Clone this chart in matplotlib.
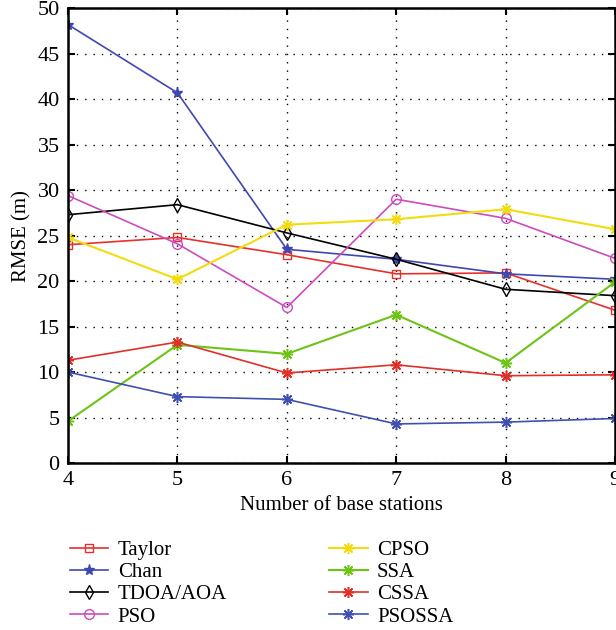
import matplotlib.pyplot as plt

plt.rcParams['font.family'] = ['Liberation Serif', 'DejaVu Serif']

# Number of base stations
stations = [4, 5, 6, 7, 8, 9]

# RMSE values (m)
taylor = [24.0, 24.8, 22.9, 20.8, 20.9, 16.8]
chan = [48.2, 40.7, 23.5, 22.4, 20.8, 20.2]
tdoa_aoa = [27.3, 28.4, 25.3, 22.4, 19.1, 18.4]
pso = [29.4, 24.1, 17.1, 29.0, 26.9, 22.5]
cpso = [24.8, 20.2, 26.2, 26.8, 27.9, 25.7]
ssa = [4.6, 13.0, 12.0, 16.3, 11.0, 19.9]
cssa = [11.3, 13.3, 9.9, 10.8, 9.6, 9.7]
psossa = [10.0, 7.3, 7.0, 4.3, 4.5, 4.9]

fig = plt.figure(figsize=(6.16, 6.3), dpi=100)
ax = fig.add_axes([0.1104, 0.265, 0.888, 0.722])

# 8-armed asterisk marker
ast = (8, 2, 0)
ax.plot(stations, taylor, color="#e8302a", marker="s", mfc="none", ms=6, lw=1.2, label="Taylor")
ax.plot(stations, chan, color="#3f48b0", marker="*", ms=8, lw=1.2, label="Chan")
ax.plot(stations, tdoa_aoa, color="black", marker="d", mfc="none", ms=7, lw=1.2, label="TDOA/AOA")
ax.plot(stations, pso, color="#cc4cc0", marker="o", mfc="none", ms=7, lw=1.2, label="PSO")
ax.plot(stations, cpso, color="#f2dc10", marker=ast, ms=8, mew=1.1, lw=1.5, label="CPSO")
ax.plot(stations, ssa, color="#6cc416", marker=ast, ms=8, mew=1.1, lw=1.5, label="SSA")
ax.plot(stations, cssa, color="#e03028", marker=ast, ms=8, mew=1.1, lw=1.2, label="CSSA")
ax.plot(stations, psossa, color="#4050b0", marker=ast, ms=8, mew=1.1, lw=1.2, label="PSOSSA")

ax.set_xlim(4, 9)
ax.set_ylim(0, 50)
ax.set_xticks(stations)
ax.set_yticks(range(0, 51, 5))
ax.tick_params(direction="in", top=True, right=True, labelsize=16, length=5, width=1.5, pad=6)
for s in ax.spines.values():
    s.set_linewidth(1.8)
ax.grid(True, linestyle=(0, (1, 5)), color="black", linewidth=1.0)
ax.set_xlabel("Number of base stations", fontsize=15, labelpad=4)
ax.set_ylabel("RMSE (m)", fontsize=15, labelpad=4)

fig.legend(loc="upper left", bbox_to_anchor=(0.1, 0.155), ncol=2, frameon=False,
           fontsize=15, handlelength=1.85, columnspacing=4.9, labelspacing=0.12,
           handletextpad=0.45, borderaxespad=0)

fig.savefig("out.png", dpi=100)
